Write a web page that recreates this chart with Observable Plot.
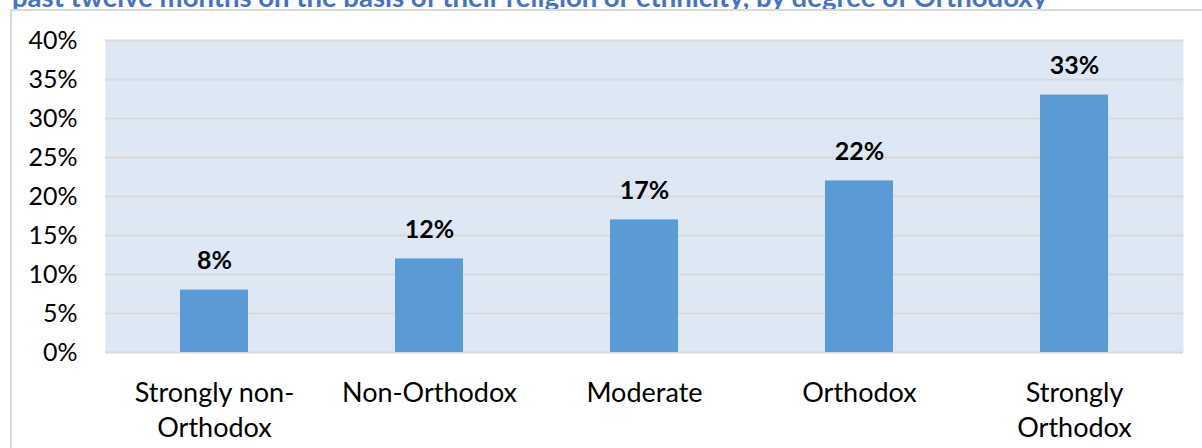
<!DOCTYPE html>
<html>
<head>
<meta charset="utf-8">
<script src="https://cdn.jsdelivr.net/npm/d3@7"></script>
<script src="https://cdn.jsdelivr.net/npm/@observablehq/plot@0.6"></script>
<style>
  html, body { margin: 0; padding: 0; background: #fff; overflow: hidden; width: 1202px; height: 448px; }
  #title { position: relative; height: 10px; }
  #title span { position: absolute; left: 12px; top: -20px; white-space: nowrap; line-height: 27px;
    font: bold 27.5px Lato, sans-serif; color: #4472c4; }
  #wrap { position: relative; width: 1202px; height: 438px; }
  #border { position: absolute; left: 10px; top: -1px; width: 1200px; height: 450px;
    border-top: 2px solid #d9d9d9; border-left: 2px solid #d9d9d9; }
  #wrap svg { position: absolute; left: 0; top: 0; }
</style>
</head>
<body>
<div id="title"><span>past twelve months on the basis of their religion or ethnicity, by degree of Orthodoxy</span></div>
<div id="wrap"><div id="border"></div></div>
<script>
const categories = ["Strongly non-\nOrthodox", "Non-Orthodox", "Moderate", "Orthodox", "Strongly\nOrthodox"];
const values = [8, 12, 17, 22, 33];
const yTicks = [0, 5, 10, 15, 20, 25, 30, 35, 40];

const data = categories.map((c, i) => ({category: c, value: values[i]}));

const chart = Plot.plot({
  width: 1202,
  height: 438,
  marginTop: 30,
  marginBottom: 96,
  marginLeft: 105,
  marginRight: 19,
  style: {fontFamily: "Lato, sans-serif", fontSize: "25px", color: "#000", background: "transparent", overflow: "visible"},
  x: {domain: categories, paddingInner: 0.685, paddingOuter: 0.3425, label: null},
  y: {domain: [0, 40], label: null},
  marks: [
    Plot.frame({fill: "#dde8f4", stroke: null}),
    Plot.ruleY(yTicks, {stroke: "#d9d9d9", strokeWidth: 2, strokeOpacity: 1}),
    Plot.barY(data, {x: "category", y: "value", fill: "#5b9bd5"}),
    Plot.text(data, {x: "category", y: "value", text: d => d.value + "%", dy: -29,
      fontWeight: "bold", fontSize: 25, fill: "#000"}),
    Plot.axisY({ticks: yTicks, tickFormat: d => d + "%", tickSize: 0, tickPadding: 28,
      fontSize: 25, label: null}),
    Plot.axisX({tickSize: 0, tickPadding: 24, fontSize: 27, lineHeight: 1.31, label: null})
  ]
});
document.getElementById("wrap").appendChild(chart);
</script>
</body>
</html>
